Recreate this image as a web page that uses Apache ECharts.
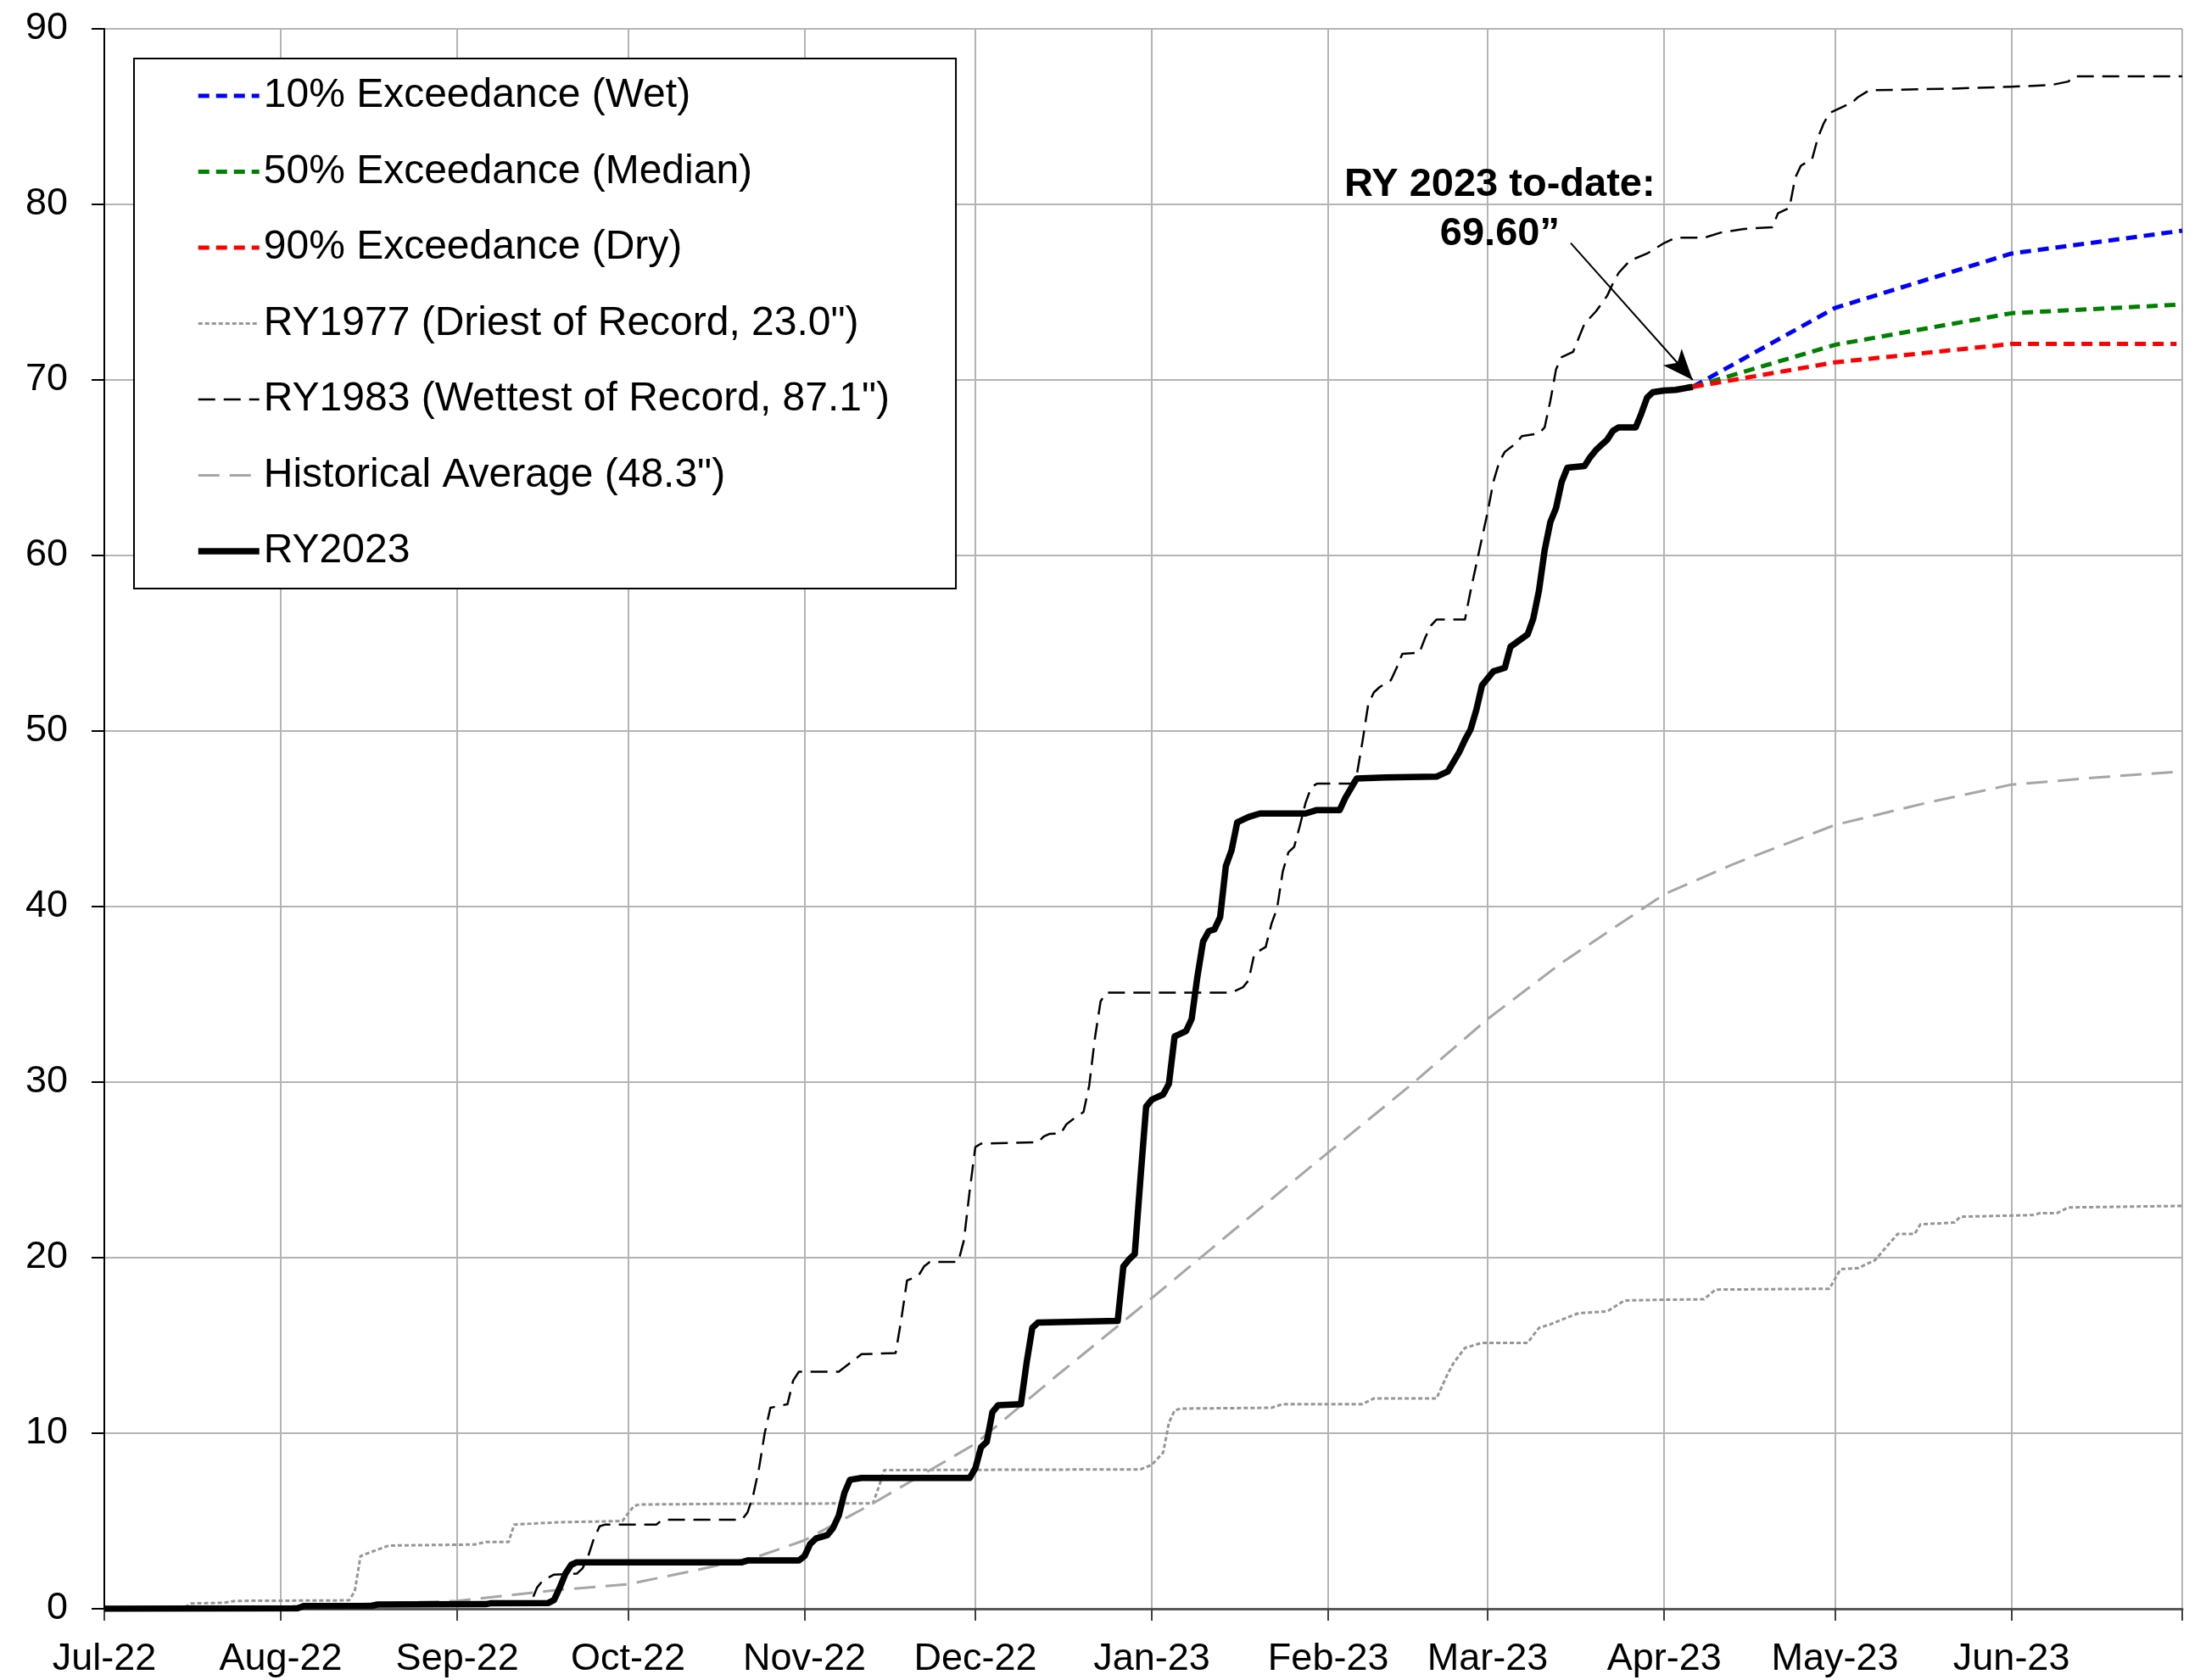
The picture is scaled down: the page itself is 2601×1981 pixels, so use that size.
<!DOCTYPE html>
<html>
<head>
<meta charset="utf-8">
<script src="https://cdn.jsdelivr.net/npm/echarts@6/dist/echarts.min.js"></script>
<style>
html,body{margin:0;padding:0;background:#fff;}
#chart{width:2601px;height:1981px;}
</style>
</head>
<body>
<div id="chart"></div>
<script>
// ---------- DATA ----------
const seriesNames = [
  '10% Exceedance (Wet)',
  '50% Exceedance (Median)',
  '90% Exceedance (Dry)',
  'RY1977 (Driest of Record, 23.0")',
  'RY1983 (Wettest of Record, 87.1")',
  'Historical Average (48.3")',
  'RY2023'
];
const monthNames = ['Jan','Feb','Mar','Apr','May','Jun','Jul','Aug','Sep','Oct','Nov','Dec'];
const yTicks = [0, 10, 20, 30, 40, 50, 60, 70, 80, 90];

const ry2023 = [
  ['2022-07-01',0],['2022-08-04',0.03],['2022-08-05',0.16],['2022-08-17',0.17],['2022-08-18',0.24],
  ['2022-09-06',0.26],['2022-09-07',0.32],['2022-09-17',0.33],['2022-09-18',0.5],['2022-09-19',1.2],
  ['2022-09-20',2.0],['2022-09-21',2.5],['2022-09-22',2.65],['2022-10-21',2.65],['2022-10-22',2.75],
  ['2022-10-31',2.75],['2022-11-01',3.0],['2022-11-02',3.7],['2022-11-03',4.0],['2022-11-05',4.2],
  ['2022-11-06',4.6],['2022-11-07',5.3],['2022-11-08',6.6],['2022-11-09',7.35],['2022-11-11',7.45],
  ['2022-11-30',7.45],['2022-12-01',8.0],['2022-12-02',9.2],['2022-12-03',9.5],['2022-12-04',11.2],
  ['2022-12-05',11.6],['2022-12-09',11.65],['2022-12-10',14.0],['2022-12-11',16.0],['2022-12-12',16.3],
  ['2022-12-26',16.4],['2022-12-27',19.5],['2022-12-28',19.9],['2022-12-29',20.2],['2022-12-30',24.5],
  ['2022-12-31',28.6],['2023-01-01',29.0],['2023-01-03',29.3],['2023-01-04',29.9],['2023-01-05',32.6],
  ['2023-01-07',32.9],['2023-01-08',33.6],['2023-01-09',36.0],['2023-01-10',38.0],['2023-01-11',38.6],
  ['2023-01-12',38.7],['2023-01-13',39.4],['2023-01-14',42.3],['2023-01-15',43.2],['2023-01-16',44.8],
  ['2023-01-18',45.1],['2023-01-20',45.3],['2023-01-28',45.3],['2023-01-30',45.5],['2023-02-03',45.5],
  ['2023-02-04',46.2],['2023-02-06',47.3],['2023-02-11',47.35],['2023-02-20',47.4],['2023-02-22',47.7],
  ['2023-02-24',48.8],['2023-02-25',49.5],['2023-02-26',50.1],['2023-02-27',51.2],['2023-02-28',52.6],
  ['2023-03-02',53.4],['2023-03-04',53.6],['2023-03-05',54.8],['2023-03-08',55.5],['2023-03-09',56.4],
  ['2023-03-10',58.0],['2023-03-11',60.3],['2023-03-12',61.9],['2023-03-13',62.7],['2023-03-14',64.2],
  ['2023-03-15',65.0],['2023-03-18',65.1],['2023-03-19',65.6],['2023-03-20',66.0],['2023-03-21',66.3],
  ['2023-03-22',66.6],['2023-03-23',67.1],['2023-03-24',67.3],['2023-03-27',67.3],['2023-03-28',68.1],
  ['2023-03-29',69.0],['2023-03-30',69.3],['2023-04-01',69.4],['2023-04-03',69.43],['2023-04-05',69.55],
  ['2023-04-06',69.6]
];

const ry1983 = [
  ['2022-07-01',0],['2022-07-21',0],['2022-08-01',0.1],['2022-08-20',0.2],['2022-09-09',0.3],
  ['2022-09-14',0.4],['2022-09-15',1.2],['2022-09-16',1.6],['2022-09-18',1.95],['2022-09-22',2.0],
  ['2022-09-23',2.3],['2022-09-24',3.0],['2022-09-25',4.0],['2022-09-26',4.7],['2022-09-27',4.8],
  ['2022-10-06',4.8],['2022-10-07',5.07],['2022-10-21',5.07],['2022-10-22',5.5],['2022-10-23',6.5],
  ['2022-10-24',8.0],['2022-10-25',10.0],['2022-10-26',11.45],['2022-10-29',11.65],['2022-10-30',13.0],
  ['2022-10-31',13.5],['2022-11-07',13.5],['2022-11-09',14.0],['2022-11-11',14.5],['2022-11-17',14.57],
  ['2022-11-18',16.5],['2022-11-19',18.7],['2022-11-21',18.97],['2022-11-22',19.5],['2022-11-23',19.76],
  ['2022-11-28',19.76],['2022-11-29',21.0],['2022-11-30',23.8],['2022-12-01',26.3],['2022-12-02',26.5],
  ['2022-12-12',26.57],['2022-12-13',26.9],['2022-12-14',27.05],['2022-12-16',27.07],['2022-12-17',27.6],
  ['2022-12-18',27.85],['2022-12-20',28.3],['2022-12-21',29.8],['2022-12-22',32.5],['2022-12-23',34.6],
  ['2022-12-24',35.1],['2023-01-15',35.1],['2023-01-17',35.4],['2023-01-18',35.8],['2023-01-19',37.3],
  ['2023-01-21',37.7],['2023-01-22',39.0],['2023-01-23',39.9],['2023-01-24',42.0],['2023-01-25',43.1],
  ['2023-01-26',43.4],['2023-01-27',44.6],['2023-01-28',45.9],['2023-01-29',46.8],['2023-01-30',47.0],
  ['2023-02-05',47.0],['2023-02-06',47.5],['2023-02-07',49.4],['2023-02-08',51.5],['2023-02-09',52.2],
  ['2023-02-10',52.5],['2023-02-12',52.9],['2023-02-13',53.6],['2023-02-14',54.4],['2023-02-17',54.46],
  ['2023-02-18',55.3],['2023-02-19',56.0],['2023-02-20',56.35],['2023-02-25',56.35],['2023-02-26',58.0],
  ['2023-02-27',59.5],['2023-02-28',61.0],['2023-03-01',62.5],['2023-03-02',64.2],['2023-03-03',65.3],
  ['2023-03-04',65.9],['2023-03-06',66.4],['2023-03-07',66.8],['2023-03-10',66.95],['2023-03-11',67.3],
  ['2023-03-12',68.8],['2023-03-13',70.6],['2023-03-14',71.3],['2023-03-16',71.6],['2023-03-17',72.4],
  ['2023-03-18',73.2],['2023-03-20',73.9],['2023-03-22',74.8],['2023-03-23',75.5],['2023-03-24',76.1],
  ['2023-03-26',76.8],['2023-03-29',77.2],['2023-03-30',77.4],['2023-04-01',77.8],['2023-04-03',78.1],
  ['2023-04-08',78.1],['2023-04-11',78.4],['2023-04-15',78.6],['2023-04-20',78.7],['2023-04-21',79.5],
  ['2023-04-23',79.8],['2023-04-24',81.5],['2023-04-25',82.2],['2023-04-27',82.6],['2023-04-28',83.8],
  ['2023-04-29',84.6],['2023-04-30',85.2],['2023-05-02',85.5],['2023-05-04',85.8],['2023-05-05',86.1],
  ['2023-05-07',86.5],['2023-05-22',86.6],['2023-06-01',86.7],['2023-06-08',86.8],['2023-06-11',87.0],
  ['2023-06-12',87.3],['2023-07-01',87.3]
];

const ry1977 = [
  ['2022-07-01',0],['2022-07-15',0],['2022-07-16',0.3],['2022-07-22',0.34],['2022-07-24',0.45],
  ['2022-08-13',0.48],['2022-08-14',1.0],['2022-08-15',3.0],['2022-08-17',3.25],['2022-08-20',3.6],
  ['2022-09-04',3.66],['2022-09-06',3.8],['2022-09-10',3.8],['2022-09-11',4.8],['2022-09-19',4.93],
  ['2022-09-30',5.0],['2022-10-02',5.85],['2022-10-03',5.94],['2022-10-22',5.99],['2022-11-13',6.0],
  ['2022-11-14',6.9],['2022-11-15',7.9],['2022-12-30',7.94],['2023-01-01',8.2],['2023-01-03',8.9],
  ['2023-01-04',10.6],['2023-01-05',11.3],['2023-01-06',11.4],['2023-01-22',11.45],['2023-01-24',11.66],
  ['2023-02-07',11.66],['2023-02-09',11.98],['2023-02-20',11.98],['2023-02-22',13.4],['2023-02-23',14.0],
  ['2023-02-25',14.86],['2023-02-28',15.15],['2023-03-08',15.15],['2023-03-10',16.0],['2023-03-12',16.2],
  ['2023-03-15',16.6],['2023-03-17',16.84],['2023-03-22',16.94],['2023-03-25',17.56],['2023-03-31',17.6],
  ['2023-04-08',17.63],['2023-04-10',18.18],['2023-04-30',18.23],['2023-05-02',19.35],['2023-05-05',19.4],
  ['2023-05-08',19.85],['2023-05-12',21.35],['2023-05-15',21.35],['2023-05-16',21.9],['2023-05-22',22.0],
  ['2023-05-23',22.33],['2023-06-05',22.43],['2023-06-06',22.54],['2023-06-09',22.54],['2023-06-11',22.86],
  ['2023-07-01',22.95]
];

const histAvg = [
  ['2022-07-01',0],['2022-08-01',0.12],['2022-09-01',0.45],['2022-09-18',1.05],['2022-10-01',1.4],
  ['2022-10-13',2.2],['2022-10-24',3.0],['2022-11-01',3.9],['2022-11-13',6.0],['2022-12-01',9.4],
  ['2022-12-15',13.2],['2022-12-26',16.1],['2023-01-01',17.7],['2023-01-17',22.0],['2023-02-01',26.0],
  ['2023-02-15',29.7],['2023-03-01',33.6],['2023-03-14',36.8],['2023-04-01',40.7],['2023-04-13',42.4],
  ['2023-05-01',44.65],['2023-05-17',45.9],['2023-06-01',46.95],['2023-06-16',47.35],['2023-07-01',47.7]
];

const exc10 = [['2023-04-06',69.6],['2023-05-01',74.1],['2023-06-01',77.2],['2023-07-01',78.5]];
const exc50 = [['2023-04-06',69.6],['2023-05-01',72.0],['2023-06-01',73.8],['2023-07-01',74.3]];
const exc90 = [['2023-04-06',69.6],['2023-05-01',71.0],['2023-06-01',72.05],['2023-06-30',72.05]];

const annotationText = 'RY 2023 to-date:\n69.60\u201D';
const annotationAt = ['2023-03-03 03:00', 79.7];
const arrowFrom = ['2023-03-15 14:00', 77.8];
const arrowTo = ['2023-04-06', 70.0];

// ---------- CHART ----------
const FONT = '"Liberation Sans", Arial, Helvetica, sans-serif';
const DAY = 86400000;
const chart = echarts.init(document.getElementById('chart'), null, {renderer: 'canvas'});

const styles = {
  '10% Exceedance (Wet)': {color: '#0000ff', width: 5, type: [13, 8]},
  '50% Exceedance (Median)': {color: '#008000', width: 5, type: [13, 8]},
  '90% Exceedance (Dry)': {color: '#ff0000', width: 5, type: [13, 8]},
  'RY1977 (Driest of Record, 23.0")': {color: '#969696', width: 3, type: [5, 3]},
  'RY1983 (Wettest of Record, 87.1")': {color: '#000000', width: 2.5, type: [20, 10]},
  'Historical Average (48.3")': {color: '#a6a6a6', width: 3, type: [25, 12]},
  'RY2023': {color: '#000000', width: 7.5, type: 'solid'}
};
const seriesData = {
  '10% Exceedance (Wet)': exc10,
  '50% Exceedance (Median)': exc50,
  '90% Exceedance (Dry)': exc90,
  'RY1977 (Driest of Record, 23.0")': ry1977,
  'RY1983 (Wettest of Record, 87.1")': ry1983,
  'Historical Average (48.3")': histAvg,
  'RY2023': ry2023
};
const drawOrder = [3, 5, 4, 0, 1, 2, 6];

const series = drawOrder.map(function (i) {
  const name = seriesNames[i];
  const st = styles[name];
  const s = {
    name: name,
    type: 'line',
    data: seriesData[name],
    symbol: 'none',
    showSymbol: false,
    smooth: false,
    silent: true,
    animation: false,
    lineStyle: {color: st.color, width: st.width, type: st.type, cap: 'butt', join: 'round'},
    itemStyle: {color: st.color},
    z: name === 'RY2023' ? 5 : 3
  };
  if (name === 'RY2023') {
    s.markLine = {
      silent: true,
      animation: false,
      symbol: ['none', 'arrow'],
      symbolSize: [22, 36],
      label: {show: false},
      lineStyle: {color: '#000', width: 2, type: 'solid'},
      data: [[{coord: arrowFrom}, {coord: arrowTo}]]
    };
    s.markPoint = {
      silent: true,
      animation: false,
      symbol: 'rect',
      symbolSize: 1,
      itemStyle: {color: 'rgba(0,0,0,0)'},
      label: {
        show: true,
        position: 'inside',
        formatter: annotationText,
        fontFamily: FONT,
        fontWeight: 'bold',
        fontSize: 47,
        lineHeight: 58,
        color: '#000',
        align: 'center'
      },
      data: [{coord: annotationAt}]
    };
  }
  return s;
});

const legendData = seriesNames.map(function (name) {
  const st = styles[name];
  return {
    name: name,
    lineStyle: {color: st.color, width: st.width, type: st.type},
    itemStyle: {color: st.color, opacity: 0, borderWidth: 0}
  };
});

chart.setOption({
  backgroundColor: '#ffffff',
  animation: false,
  textStyle: {fontFamily: FONT},
  grid: {left: 123, top: 34, width: 2450, height: 1863, containLabel: false, show: false},
  legend: {
    orient: 'vertical',
    left: 158,
    top: 69,
    padding: [16, 78, 16, 72],
    itemGap: 33.5,
    itemWidth: 72,
    itemHeight: 20,
    backgroundColor: '#ffffff',
    borderColor: '#000000',
    borderWidth: 2,
    borderRadius: 0,
    selectedMode: false,
    textStyle: {fontFamily: FONT, fontSize: 48, color: '#000', lineHeight: 56},
    data: legendData
  },
  xAxis: {
    type: 'time',
    min: '2022-07-01',
    max: '2023-07-01',
    splitNumber: 12,
    minInterval: 28 * DAY,
    maxInterval: 31 * DAY,
    axisLine: {show: true, lineStyle: {color: '#595959', width: 3}},
    axisTick: {show: true, inside: false, length: 14, lineStyle: {color: '#404040', width: 2}},
    splitLine: {show: true, lineStyle: {color: '#b4b4b4', width: 2}},
    minorTick: {show: false},
    axisLabel: {
      show: true,
      fontFamily: FONT,
      fontSize: 45,
      color: '#000',
      margin: 37,
      hideOverlap: false,
      formatter: function (value) {
        const d = new Date(value);
        if (d.getTime() >= new Date(2023, 6, 1).getTime() - DAY) return '';
        const yy = String(d.getFullYear()).slice(2);
        return monthNames[d.getMonth()] + '-' + yy;
      }
    }
  },
  yAxis: {
    type: 'value',
    min: yTicks[0],
    max: yTicks[yTicks.length - 1],
    interval: 10,
    axisLine: {show: true, lineStyle: {color: '#000', width: 2}},
    axisTick: {show: true, inside: false, length: 15, lineStyle: {color: '#000', width: 2}},
    splitLine: {show: true, lineStyle: {color: '#b4b4b4', width: 2}},
    axisLabel: {fontFamily: FONT, fontSize: 45, color: '#000', margin: 43}
  },
  series: series
});
</script>
</body>
</html>
